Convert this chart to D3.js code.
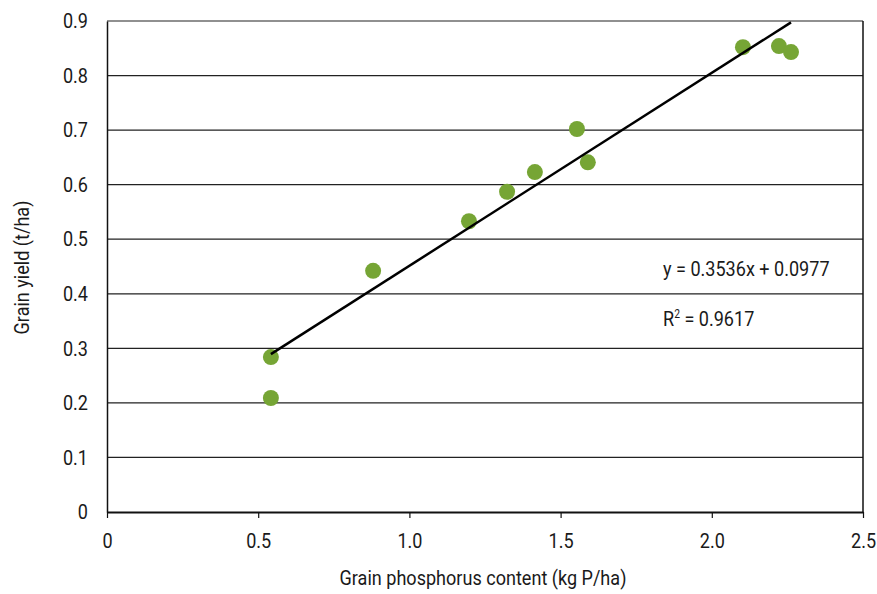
<!DOCTYPE html>
<html>
<head>
<meta charset="utf-8">
<script src="https://cdn.jsdelivr.net/npm/d3@7"></script>
<style>
  body { margin: 0; background: #fff; }
  svg text { font-family: "Roboto", "Liberation Sans", sans-serif; fill: #1a1a1a; }
  .narrow-end { transform-box: fill-box; transform: scaleX(0.86); transform-origin: right center; }
  .narrow-mid { transform-box: fill-box; transform: scaleX(0.86); transform-origin: center center; }
  .narrow-start { transform-box: fill-box; transform: scaleX(0.86); transform-origin: left center; }
</style>
</head>
<body>
<script>
// data
var phosphorus = [0.542, 0.542, 0.88, 1.197, 1.323, 1.415, 1.554, 1.59, 2.103, 2.222, 2.262];
var yieldVals  = [0.284, 0.209, 0.442, 0.533, 0.587, 0.623, 0.702, 0.641, 0.852, 0.854, 0.843];
var xTicks = [0, 0.5, 1.0, 1.5, 2.0, 2.5];
var yTicks = [0, 0.1, 0.2, 0.3, 0.4, 0.5, 0.6, 0.7, 0.8, 0.9];
var slope = 0.3536, intercept = 0.0977;
var eqLabel = "y = 0.3536x + 0.0977";

var margin = {top: 21, right: 14, bottom: 82, left: 107},
  width = 877 - margin.left - margin.right,
  height = 594 - margin.top - margin.bottom;

var svg = d3.select("body")
  .append("svg")
  .attr("width", 877)
  .attr("height", 594);
var g = svg.append("g")
  .attr("transform", "translate(" + margin.left + "," + margin.top + ")");

var x = d3.scaleLinear().domain([0, 2.5]).range([0, width]);
var y = d3.scaleLinear().domain([0, 0.9]).range([height, 0]);

var fmt = function(d) { return d === 0 ? "0" : d3.format(".1f")(d); };

// horizontal gridlines
g.selectAll(".grid")
  .data(yTicks.filter(function(d) { return d > 0; }))
  .enter().append("line")
  .attr("x1", 0).attr("x2", width)
  .attr("y1", function(d) { return y(d); })
  .attr("y2", function(d) { return y(d); })
  .attr("stroke", "#222").attr("stroke-width", 1.2);

// right border
g.append("line")
  .attr("x1", width).attr("x2", width)
  .attr("y1", 0).attr("y2", height)
  .attr("stroke", "#111").attr("stroke-width", 1.5);

// Y axis
var yAxis = g.append("g")
  .call(d3.axisLeft(y).tickValues(yTicks).tickSize(0).tickPadding(19).tickFormat(fmt));
yAxis.attr("font-family", null);
yAxis.select(".domain").attr("stroke", "#111").attr("stroke-width", 1.5);
yAxis.selectAll("text").attr("class", "narrow-end").style("font-size", "21px");

// X axis
var xAxis = g.append("g")
  .attr("transform", "translate(0," + height + ")")
  .call(d3.axisBottom(x).tickValues(xTicks).tickSizeInner(6).tickSizeOuter(0).tickPadding(15).tickFormat(fmt));
xAxis.attr("font-family", null);
xAxis.select(".domain").attr("stroke", "#111").attr("stroke-width", 2);
xAxis.selectAll(".tick line").attr("stroke", "#111").attr("stroke-width", 1.2);
xAxis.selectAll("text").attr("class", "narrow-mid").style("font-size", "21px");

// points
g.selectAll(".dot")
  .data(phosphorus)
  .enter().append("circle")
  .attr("cx", function(d) { return x(d); })
  .attr("cy", function(d, i) { return y(yieldVals[i]); })
  .attr("r", 8)
  .attr("fill", "#76a535");

// trend line
var ext = d3.extent(phosphorus);
g.append("path")
  .datum(ext)
  .attr("d", d3.line()
    .x(function(d) { return x(d); })
    .y(function(d) { return y(slope * d + intercept); }))
  .attr("stroke", "#000").attr("stroke-width", 2.5).attr("fill", "none");

// equation
g.append("text")
  .attr("class", "narrow-start")
  .attr("x", 556).attr("y", 255)
  .style("font-size", "21px")
  .text(eqLabel);
var r2 = g.append("text")
  .attr("class", "narrow-start")
  .attr("x", 556).attr("y", 305)
  .style("font-size", "21px");
r2.append("tspan").text("R");
r2.append("tspan").attr("dy", -8).style("font-size", "12px").text("2");
r2.append("tspan").attr("dy", 8).text(" = 0.9617");

// axis titles
svg.append("text")
  .attr("class", "narrow-mid")
  .attr("x", margin.left + width / 2 - 2).attr("y", 585)
  .attr("text-anchor", "middle")
  .style("font-size", "21px")
  .text("Grain phosphorus content (kg P/ha)");
svg.append("text")
  .attr("transform", "translate(29," + (margin.top + height / 2 + 1) + ") rotate(-90) scale(0.86,1)")
  .attr("text-anchor", "middle")
  .style("font-size", "21px")
  .text("Grain yield (t/ha)");
</script>
</body>
</html>
